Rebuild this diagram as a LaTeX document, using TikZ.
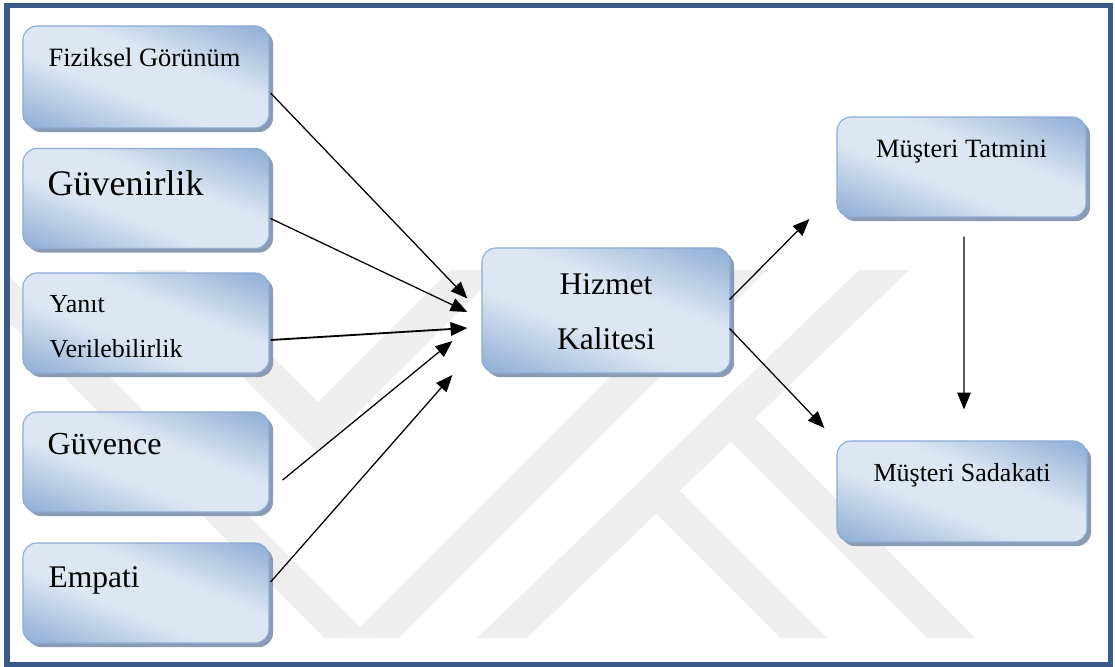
\documentclass[tikz,border=0pt]{standalone}
\usepackage{fontspec}
\setmainfont{Liberation Serif}
\usetikzlibrary{positioning,calc,shadows,arrows.meta}

\definecolor{frameblue}{RGB}{59,90,138}
\definecolor{boxdark}{RGB}{146,176,214}
\definecolor{boxlight}{RGB}{221,231,243}
\definecolor{boxline}{RGB}{141,172,212}
\definecolor{boxshadow}{RGB}{140,155,180}
\definecolor{wmgray}{RGB}{238,238,238}

\pgfdeclarehorizontalshading{boxshade}{100bp}{color(0bp)=(boxdark); color(19bp)=(boxdark); color(42bp)=(boxlight); color(58bp)=(boxlight); color(81bp)=(boxdark); color(100bp)=(boxdark)}

\tikzset{
  box/.style={rectangle, rounded corners=0.35cm, draw=boxline, line width=0.8pt,
    shade, shading=boxshade, shading angle=68,
    drop shadow={shadow xshift=0.1cm, shadow yshift=-0.1cm, fill=boxshadow, opacity=1},
    minimum width=6.15cm, minimum height=2.5cm, inner sep=0pt},
  lbl/.style={inner sep=0pt, align=left},
  arr/.style={line width=0.9pt, -{Triangle[length=0.42cm, width=0.34cm]}},
}

\begin{document}
\begin{tikzpicture}[x=0.025cm, y=-0.025cm]
    \useasboundingbox (0,0) rectangle (1115,666);

    % Watermark
    \begin{scope}
        \clip (9,8) rectangle (1108,662);
        \fill[wmgray] (-43,270) -- (3,270) -- (371,638) -- (325,638) -- cycle;
        \fill[wmgray] (349,638) -- (399,638) -- (767,270) -- (717,270) -- cycle;
        \fill[wmgray] (477,638) -- (527,638) -- (909,270) -- (859,270) -- cycle;
        \fill[wmgray] (654,511) -- (781,638) -- (827,638) -- (677,488) -- cycle;
        \fill[wmgray] (727,438) -- (927,638) -- (975,638) -- (751,414) -- cycle;
        \fill[wmgray] (136,270) -- (186,270) -- (318,402) -- (450,270) -- (500,270) -- (318,452) -- cycle;
    \end{scope}

    % Frame
    \draw[frameblue, line width=0.125cm] (7,5) rectangle (1110,664);

    % Dimensions
    \node[box, minimum height=2.55cm] (fg) at (146,77) {};
    \node[box] (gr) at (146,198.5) {};
    \node[box] (yv) at (146,323) {};
    \node[box] (gv) at (146,462) {};
    \node[box] (em) at (146,593) {};

    \node[lbl, anchor=base west, font=\fontsize{18.8}{22}\selectfont] (fg-t) at ([shift={(26,41)}]fg.north west) {Fiziksel Görünüm};
    \node[lbl, anchor=base west, font=\fontsize{25.6}{30}\selectfont] (gr-t) at ([shift={(25,48)}]gr.north west) {Güvenirlik};
    \node[lbl, anchor=base west, font=\fontsize{18.5}{32}\selectfont] (yv-t) at ([shift={(27,85)}]yv.north west) {Yanıt\\Verilebilirlik};
    \node[lbl, anchor=base west, font=\fontsize{22.8}{27}\selectfont] (gv-t) at ([shift={(25,43)}]gv.north west) {Güvence};
    \node[lbl, anchor=base west, font=\fontsize{22.4}{27}\selectfont] (em-t) at ([shift={(26,45)}]em.north west) {Empati};

    % Service quality and outcomes
    \node[box, minimum width=6.2cm, minimum height=3.125cm] (hk) at (606,310.5) {};
    \node[box, minimum width=6.225cm] (mt) at (961.5,167) {};
    \node[box, minimum width=6.25cm, minimum height=2.525cm] (ms) at (962,491.5) {};

    \node[lbl, align=center, anchor=base, font=\fontsize{22.4}{39}\selectfont] (hk-t) at ([shift={(0,102)}]hk.north) {Hizmet\\Kalitesi};
    \node[lbl, anchor=base, font=\fontsize{18.8}{22}\selectfont] (mt-t) at ([shift={(0,41)}]mt.north) {Müşteri Tatmini};
    \node[lbl, anchor=base, font=\fontsize{18.5}{22}\selectfont] (ms-t) at ([shift={(0,41)}]ms.north) {Müşteri Sadakati};

    % Arrow ends
    \coordinate (in1) at ([shift={(-14,-12)}]hk.west);
    \coordinate (in2) at ([shift={(-14,1.5)}]hk.west);
    \coordinate (in3) at ([shift={(-14,17.5)}]hk.west);
    \coordinate (in4) at ([shift={(-29,30.5)}]hk.west);
    \coordinate (in5) at ([shift={(-29,64.5)}]hk.west);
    \coordinate (out1) at ([shift={(-27,52)}]mt.west);
    \coordinate (out2) at ([shift={(-12,-63.5)}]ms.west);

    % Arrows
    \draw[arr] ([shift={(1,16)}]fg.east) -- (in1);
    \draw[arr] ([shift={(1,20)}]gr.east) -- (in2);
    \draw[arr, line width=1.3pt] ([shift={(1,17)}]yv.east) -- (in3);
    \draw[arr] ([shift={(13,18)}]gv.east) -- (in4);
    \draw[arr] ([shift={(1,-11)}]em.east) -- (in5);
    \draw[arr] ([shift={(-1,-11)}]hk.east) -- (out1);
    \draw[arr] ([shift={(-1,18)}]hk.east) -- (out2);
    \draw[arr] ([shift={(2.5,19)}]mt.south) -- ([shift={(2,-31)}]ms.north);
\end{tikzpicture}
\end{document}
